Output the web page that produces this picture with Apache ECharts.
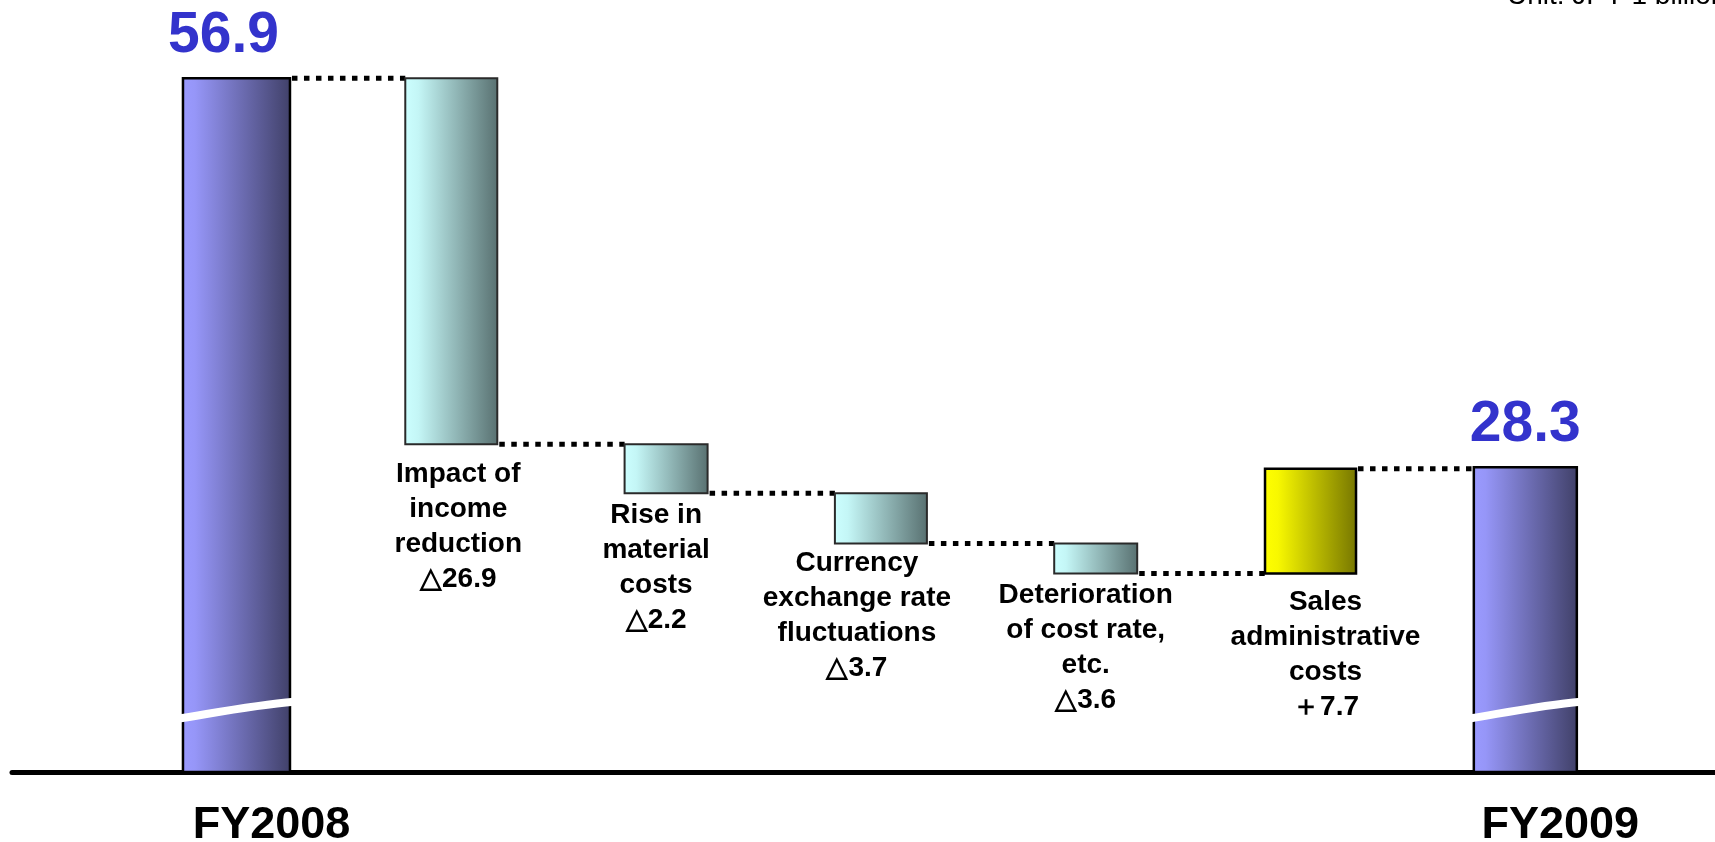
<!DOCTYPE html>
<html>
<head>
<meta charset="utf-8">
<script src="https://cdn.jsdelivr.net/npm/echarts@6/dist/echarts.min.js"></script>
<style>
html,body{margin:0;padding:0;background:#fff;}
#chart{width:1715px;height:842px;}
</style>
</head>
<body>
<div id="chart"></div>
<script>
// ---------------- data ----------------
const categories = [
  'FY2008',
  'Impact of\nincome\nreduction',
  'Rise in\nmaterial\ncosts',
  'Currency\nexchange rate\nfluctuations',
  'Deterioration\nof cost rate,\netc.',
  'Sales\nadministrative\ncosts',
  'FY2009'
];
const startTotal = 56.9;
const endTotal = 28.3;
// bar heights as drawn in the picture (billion yen)
const barDeltas = [-26.9, -3.6, -3.7, -2.2, 7.7];
// printed change labels
const changeLabels = ['\u25B326.9', '\u25B32.2', '\u25B33.7', '\u25B33.6', '\uFF0B7.7'];
const totalLabels = ['56.9', '28.3'];
const unitText = 'Unit: JPY 1 billion';

// ---------------- styles ----------------
const Y_MIN = 5.9, Y_MAX = 62;           // broken axis: bottom of visible scale
const BREAK_VALUE = 10.45, BREAK_SLANT = 0.62;
const BAR_WIDTH = [107, 92, 83, 92, 83, 91, 103];
const LABEL_DX = [7, -10, -24, -10, 15];
const LABEL_DY = [13, 5, 2, 4, 11];
const VALUE_DX = [-13, 0];
const FONT = '"Liberation Sans", Arial, Helvetica, sans-serif';

const G = echarts.graphic;
const fills = {
  0: () => new G.LinearGradient(0, 0, 1, 0, [
        {offset: 0, color: '#9a9aff'}, {offset: 0.12, color: '#9696f8'},
        {offset: 1, color: '#404068'}]),
  1: () => new G.LinearGradient(0, 0, 1, 0, [
        {offset: 0, color: '#ccffff'}, {offset: 0.15, color: '#c4f6f6'},
        {offset: 1, color: '#587070'}]),
  2: () => new G.LinearGradient(0, 0, 1, 0, [
        {offset: 0, color: '#ffff00'}, {offset: 0.15, color: '#f8f800'},
        {offset: 1, color: '#767600'}])
};
const strokes = {0: '#000000', 1: '#2a2a2a', 2: '#000000'};

// ---------------- build items ----------------
const items = [];
let cur = startTotal;
items.push([0, Y_MIN, startTotal, 0, startTotal]);
barDeltas.forEach((d, j) => {
  const next = +(cur + d).toFixed(2);
  items.push([j + 1, Math.min(cur, next), Math.max(cur, next), d < 0 ? 1 : 2, next]);
  cur = next;
});
items.push([categories.length - 1, Y_MIN, endTotal, 0, -1]);

function renderItem(params, api) {
  const idx = api.value(0);
  const low = api.value(1), high = api.value(2);
  const kind = api.value(3), level = api.value(4);
  const w = BAR_WIDTH[idx];
  const pTop = api.coord([idx, high]);
  const pBot = api.coord([idx, low]);
  const cx = pTop[0];
  const children = [];
  children.push({
    type: 'rect',
    shape: {x: cx - w / 2, y: pTop[1], width: w, height: pBot[1] - pTop[1]},
    style: {fill: fills[kind](), stroke: strokes[kind], lineWidth: kind === 1 ? 2 : 2.5}
  });
  // connector to next bar
  if (idx < categories.length - 1) {
    const pn = api.coord([idx + 1, level]);
    const wn = BAR_WIDTH[idx + 1];
    children.push({
      type: 'line',
      shape: {x1: cx + w / 2 + 2, y1: pn[1], x2: pn[0] - wn / 2, y2: pn[1]},
      style: {stroke: '#000', lineWidth: 5, lineDash: [5.5, 6.5]}
    });
  }
  if (kind === 0) {
    // axis-break stripe
    const a = api.coord([idx, BREAK_VALUE - BREAK_SLANT]);
    const b = api.coord([idx, BREAK_VALUE + BREAK_SLANT]);
    const dy = a[1] - b[1];
    children.push({
      type: 'bezierCurve',
      shape: {
        x1: cx - w / 2 - 4, y1: a[1],
        x2: cx + w / 2 + 4, y2: b[1],
        cpx1: cx - w / 6, cpy1: a[1] - dy * 0.38,
        cpx2: cx + w / 6, cpy2: b[1] + dy * 0.2
      },
      style: {stroke: '#ffffff', lineWidth: 8, fill: null}
    });
    const ti = idx === 0 ? 0 : 1;
    children.push({
      type: 'text',
      style: {
        text: totalLabels[ti], x: cx + VALUE_DX[ti], y: pTop[1] - 42,
        align: 'center', verticalAlign: 'middle',
        fill: '#3333cc', fontSize: 57, fontWeight: 'bold', fontFamily: FONT
      }
    });
    children.push({
      type: 'text',
      style: {
        text: categories[idx], x: cx + 35, y: pBot[1] + 54,
        align: 'center', verticalAlign: 'middle',
        fill: '#000', fontSize: 45, fontWeight: 'bold', fontFamily: FONT
      }
    });
  } else {
    const k = idx - 1;
    children.push({
      type: 'text',
      style: {
        text: categories[idx] + '\n' + changeLabels[k],
        x: cx + LABEL_DX[k], y: pBot[1] + LABEL_DY[k],
        align: 'center', verticalAlign: 'top', lineHeight: 35,
        fill: '#000', fontSize: 28, fontWeight: 'bold', fontFamily: FONT
      }
    });
  }
  return {type: 'group', children: children};
}

const chart = echarts.init(document.getElementById('chart'), null, {renderer: 'canvas'});
chart.setOption({
  animation: false,
  backgroundColor: '#ffffff',
  grid: {left: 12, right: 0, top: 9, bottom: 70},
  xAxis: {
    type: 'value', min: -1.045, max: 6.883,
    splitLine: {show: false}, axisTick: {show: false}, axisLabel: {show: false},
    axisLine: {show: true, onZero: false, lineStyle: {color: '#000', width: 5}}
  },
  yAxis: {
    type: 'value', min: Y_MIN, max: Y_MAX, show: false
  },
  graphic: [{
    type: 'text', left: 1507, top: -18,
    style: {text: unitText, fontSize: 28, fill: '#000', fontFamily: FONT}
  }],
  series: [{
    type: 'custom',
    clip: false,
    renderItem: renderItem,
    encode: {x: 0, y: [1, 2]},
    data: items,
    z: 3
  }]
});
</script>
</body>
</html>
